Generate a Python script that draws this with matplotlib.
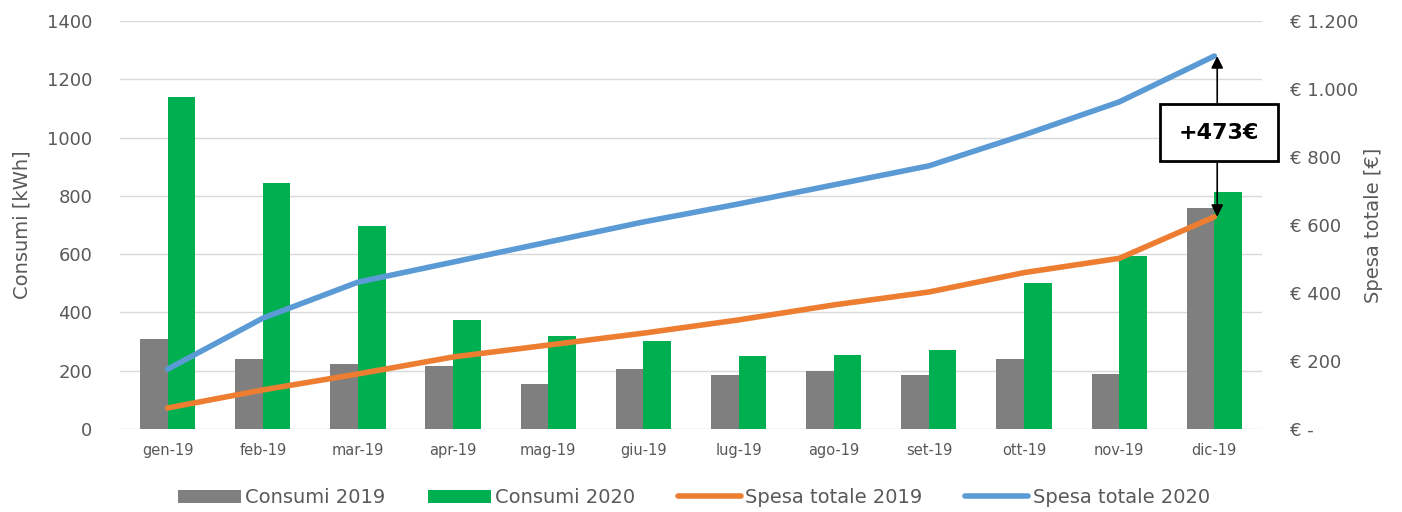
import matplotlib.pyplot as plt
import numpy as np

mesi = ['gen-19', 'feb-19', 'mar-19', 'apr-19', 'mag-19', 'giu-19',
        'lug-19', 'ago-19', 'set-19', 'ott-19', 'nov-19', 'dic-19']
consumi_2019 = [308, 242, 222, 215, 155, 205, 185, 200, 185, 242, 190, 757]
consumi_2020 = [1140, 843, 695, 375, 318, 303, 252, 255, 272, 500, 595, 815]
spesa_2019 = [62, 115, 162, 212, 247, 282, 321, 365, 403, 460, 502, 624]
spesa_2020 = [176, 326, 432, 491, 550, 609, 662, 718, 774, 865, 962, 1097]

grigio = '#595959'
plt.rcParams['font.family'] = ['DejaVu Sans']

fig = plt.figure(figsize=(14.02, 5.12), dpi=100)
ax = fig.add_axes([0.0856, 0.162, 0.8145, 0.797])
ax2 = ax.twinx()

x = np.arange(len(mesi))
w = 0.29
b1 = ax.bar(x - w / 2, consumi_2019, w, color='#7f7f7f', label='Consumi 2019', zorder=2)
b2 = ax.bar(x + w / 2, consumi_2020, w, color='#00b050', label='Consumi 2020', zorder=2)
l1, = ax2.plot(x, spesa_2019, color='#ed7d31', lw=4, label='Spesa totale 2019', solid_capstyle='round')
l2, = ax2.plot(x, spesa_2020, color='#5b9bd5', lw=4, label='Spesa totale 2020', solid_capstyle='round')

ax.set_xlim(-0.5, len(mesi) - 0.5)
ax.set_ylim(0, 1400)
ax.set_yticks(range(0, 1401, 200))
ax2.set_ylim(0, 1200)
ax2.set_yticks(range(0, 1201, 200))
ax2.set_yticklabels(['€ -'] + ['€ {:,}'.format(v).replace(',', '.') for v in range(200, 1201, 200)])

ax.set_xticks(x)
ax.set_xticklabels(mesi, fontsize=10.5, color=grigio)
ax.tick_params(axis='y', labelsize=13, colors=grigio, length=0, pad=20)
ax2.tick_params(axis='y', labelsize=13, colors=grigio, length=0, pad=20)
ax.tick_params(axis='x', length=0, pad=10)

ax.grid(axis='y', color='#d9d9d9', lw=1, zorder=0)
ax.set_axisbelow(True)
for a in (ax, ax2):
    for s in a.spines.values():
        s.set_visible(False)

ax.set_ylabel('Consumi [kWh]', fontsize=14, color=grigio, labelpad=11)
ax2.set_ylabel('Spesa totale [€]', fontsize=14, color=grigio, labelpad=4)

# differenza a dicembre
xa = x[-1] + 0.03
ax2.annotate('', xy=(xa, spesa_2020[-1]), xytext=(xa, 960),
             arrowprops=dict(arrowstyle='-|>', color='black', lw=1.2, mutation_scale=18,
                             shrinkA=0, shrinkB=0))
ax2.annotate('', xy=(xa, spesa_2019[-1]), xytext=(xa, 785),
             arrowprops=dict(arrowstyle='-|>', color='black', lw=1.2, mutation_scale=18,
                             shrinkA=0, shrinkB=0))
ax2.text(xa + 0.02, 872, '+{}€'.format(spesa_2020[-1] - spesa_2019[-1]), ha='center', va='center',
         fontsize=16, fontweight='bold', zorder=5,
         bbox=dict(boxstyle='square,pad=0.85', fc='white', ec='black', lw=2))

fig.legend([b1, b2, l1, l2], ['Consumi 2019', 'Consumi 2020', 'Spesa totale 2019', 'Spesa totale 2020'],
           loc='lower center', bbox_to_anchor=(0.495, -0.025), ncol=4, frameon=False,
           fontsize=14, labelcolor=grigio,
           handlelength=3.2, handletextpad=0.25, columnspacing=2.2)

fig.savefig('out.png', dpi=100)
